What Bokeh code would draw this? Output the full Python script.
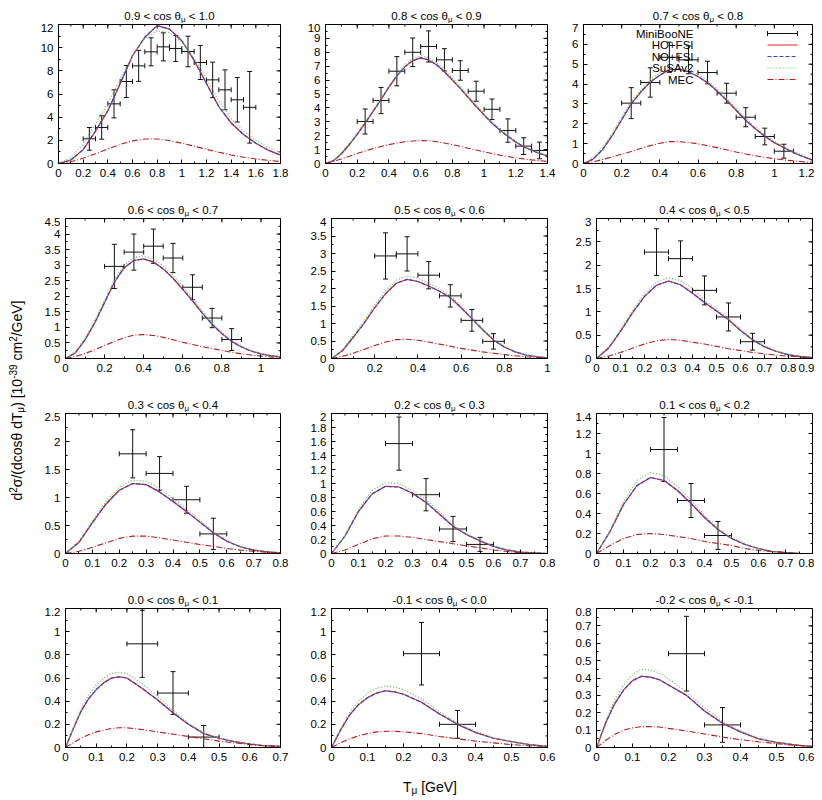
import math
import numpy as np
from bokeh.plotting import figure
from bokeh.models import (ColumnDataSource, FixedTicker, NumeralTickFormatter,
                          Label, Whisker, TeeHead, Range1d)
from bokeh.layouts import row, column
from bokeh.embed import file_html
from bokeh.resources import INLINE

# ------------------------------------------------------------------ data
cos_lo = ["0.9", "0.8", "0.7", "0.6", "0.5", "0.4", "0.3", "0.2", "0.1", "0.0", "-0.1", "-0.2"]
cos_hi = ["1.0", "0.9", "0.8", "0.7", "0.6", "0.5", "0.4", "0.3", "0.2", "0.1", "0.0", "-0.1"]

x_max = [1.8, 1.4, 1.2, 1.1, 1.0, 0.9, 0.8, 0.8, 0.8, 0.7, 0.6, 0.6]
x_step = [0.2, 0.2, 0.2, 0.2, 0.2, 0.1, 0.1, 0.1, 0.1, 0.1, 0.1, 0.1]
y_max = [12, 10, 7, 4.5, 4, 3, 2.5, 2, 1.4, 1.2, 1.2, 0.8]
y_step = [2, 1, 1, 0.5, 0.5, 0.5, 0.5, 0.2, 0.2, 0.2, 0.2, 0.1]

legend_names = ["MiniBooNE", "HO+FSI", "NO+FSI", "SuSAv2", "MEC"]
bin_half_width = 0.05

# T_mu grids on which the model curves were read (GeV)
t_1 = [0, 0.1, 0.2, 0.3, 0.4, 0.5, 0.6, 0.7, 0.8, 0.9, 1.0, 1.1, 1.2, 1.3, 1.4, 1.5, 1.6, 1.7, 1.8]
t_2 = [0, 0.05, 0.1, 0.15, 0.2, 0.25, 0.3, 0.35, 0.4, 0.45, 0.5, 0.55, 0.6, 0.65, 0.7, 0.75, 0.8,
       0.85, 0.9, 0.95, 1.0, 1.05, 1.1, 1.15, 1.2, 1.25, 1.3, 1.35, 1.4]
t_3 = [0, 0.05, 0.1, 0.15, 0.2, 0.25, 0.3, 0.35, 0.4, 0.45, 0.5, 0.55, 0.6, 0.65, 0.7, 0.75, 0.8,
       0.85, 0.9, 0.95, 1.0, 1.05, 1.1, 1.15, 1.2]
t_4 = [0, 0.05, 0.1, 0.15, 0.2, 0.25, 0.3, 0.35, 0.4, 0.45, 0.5, 0.55, 0.6, 0.65, 0.7, 0.75, 0.8,
       0.85, 0.9, 0.95, 1.0, 1.05, 1.1]
t_5 = [0, 0.05, 0.1, 0.15, 0.2, 0.25, 0.3, 0.35, 0.4, 0.45, 0.5, 0.55, 0.6, 0.65, 0.7, 0.75, 0.8,
       0.85, 0.9, 0.95, 1.0]
t_6 = [0, 0.05, 0.1, 0.15, 0.2, 0.25, 0.3, 0.35, 0.4, 0.45, 0.5, 0.55, 0.6, 0.65, 0.7, 0.75, 0.8,
       0.85, 0.9]
t_7 = [0, 0.05, 0.1, 0.15, 0.2, 0.25, 0.3, 0.35, 0.4, 0.45, 0.5, 0.55, 0.6, 0.65, 0.7, 0.75, 0.8]
t_8 = [0, 0.05, 0.1, 0.15, 0.2, 0.25, 0.3, 0.35, 0.4, 0.45, 0.5, 0.55, 0.6, 0.65, 0.7, 0.75, 0.8]
t_9 = [0, 0.05, 0.1, 0.15, 0.2, 0.25, 0.3, 0.35, 0.4, 0.45, 0.5, 0.55, 0.6, 0.65, 0.7, 0.75, 0.8]
t_10 = [0, 0.025, 0.05, 0.075, 0.1, 0.125, 0.15, 0.175, 0.2, 0.25, 0.3, 0.35, 0.4, 0.45, 0.5,
        0.55, 0.6, 0.65, 0.7]
t_11 = [0, 0.025, 0.05, 0.075, 0.1, 0.125, 0.15, 0.175, 0.2, 0.25, 0.3, 0.35, 0.4, 0.45, 0.5,
        0.55, 0.6]
t_12 = [0, 0.025, 0.05, 0.075, 0.1, 0.125, 0.15, 0.175, 0.2, 0.25, 0.3, 0.35, 0.4, 0.45, 0.5,
        0.55, 0.6]

# HO+FSI (NO+FSI coincides with it at reading precision)
ho_1 = [0, 0.3, 1.2, 2.8, 4.55, 6.9, 9.3, 10.9, 11.9, 11.6, 10.6, 8.9, 6.9, 4.9, 3.5, 2.5, 1.75, 1.15, 0.72]
ho_2 = [0, 0.2, 0.7, 1.35, 2.1, 2.9, 3.75, 4.6, 5.5, 6.3, 6.95, 7.4, 7.6, 7.45, 7.1, 6.6, 6.0, 5.4,
        4.75, 4.1, 3.5, 2.9, 2.4, 1.95, 1.55, 1.2, 0.95, 0.72, 0.55]
ho_3 = [0, 0.22, 0.7, 1.4, 2.2, 3.0, 3.6, 4.1, 4.45, 4.72, 4.75, 4.62, 4.38, 4.07, 3.65, 3.18, 2.68,
        2.18, 1.75, 1.37, 1.05, 0.8, 0.55, 0.35, 0.17]
ho_4 = [0, 0.18, 0.6, 1.15, 1.8, 2.45, 2.92, 3.15, 3.2, 3.1, 2.88, 2.58, 2.22, 1.85, 1.46, 1.1, 0.8,
        0.55, 0.37, 0.24, 0.15, 0.09, 0.05]
ho_5 = [0, 0.22, 0.6, 1.0, 1.45, 1.85, 2.15, 2.26, 2.2, 2.07, 1.92, 1.74, 1.45, 1.14, 0.82, 0.53,
        0.33, 0.19, 0.1, 0.05, 0.02]
ho_6 = [0, 0.22, 0.58, 0.98, 1.33, 1.57, 1.66, 1.58, 1.4, 1.2, 1.02, 0.83, 0.6, 0.4, 0.25, 0.15,
        0.08, 0.04, 0.02]
ho_7 = [0, 0.2, 0.55, 0.88, 1.13, 1.25, 1.23, 1.1, 0.93, 0.75, 0.56, 0.37, 0.22, 0.12, 0.06, 0.03, 0.01]
ho_8 = [0, 0.25, 0.6, 0.85, 0.96, 0.95, 0.86, 0.73, 0.56, 0.39, 0.27, 0.18, 0.1, 0.05, 0.02, 0.01, 0.0]
ho_9 = [0, 0.22, 0.49, 0.68, 0.76, 0.73, 0.63, 0.5, 0.36, 0.24, 0.15, 0.09, 0.05, 0.02, 0.01, 0.0, 0.0]
ho_10 = [0, 0.16, 0.31, 0.42, 0.5, 0.56, 0.6, 0.61, 0.6, 0.51, 0.41, 0.3, 0.2, 0.12, 0.08, 0.05,
         0.03, 0.015, 0.01]
ho_11 = [0, 0.15, 0.28, 0.37, 0.43, 0.47, 0.49, 0.48, 0.46, 0.39, 0.29, 0.2, 0.13, 0.08, 0.05,
         0.025, 0.01]
ho_12 = [0, 0.14, 0.25, 0.33, 0.385, 0.41, 0.405, 0.39, 0.36, 0.3, 0.21, 0.14, 0.09, 0.05, 0.03,
         0.015, 0.005]

# SuSAv2
susa_1 = [0, 0.5, 1.7, 3.4, 5.2, 7.3, 9.3, 10.8, 11.45, 11.3, 10.5, 9.1, 7.3, 5.4, 3.9, 2.8, 2.0, 1.4, 0.95]
susa_2 = [0, 0.25, 0.78, 1.45, 2.2, 3.0, 3.85, 4.7, 5.6, 6.4, 7.1, 7.55, 7.75, 7.62, 7.25, 6.75,
          6.15, 5.55, 4.9, 4.25, 3.6, 3.0, 2.5, 2.03, 1.62, 1.27, 1.0, 0.77, 0.6]
susa_3 = [0, 0.28, 0.8, 1.5, 2.35, 3.12, 3.72, 4.22, 4.58, 4.83, 4.87, 4.75, 4.5, 4.18, 3.76, 3.28,
          2.78, 2.27, 1.83, 1.44, 1.11, 0.85, 0.6, 0.4, 0.22]
susa_4 = [0, 0.22, 0.65, 1.22, 1.88, 2.53, 3.0, 3.24, 3.3, 3.2, 2.98, 2.68, 2.31, 1.93, 1.53, 1.16,
          0.85, 0.59, 0.4, 0.26, 0.16, 0.1, 0.06]
susa_5 = [0, 0.25, 0.65, 1.07, 1.53, 1.94, 2.24, 2.35, 2.29, 2.15, 1.99, 1.8, 1.5, 1.17, 0.85, 0.56,
          0.35, 0.2, 0.11, 0.06, 0.03]
susa_6 = [0, 0.25, 0.62, 1.03, 1.39, 1.64, 1.73, 1.67, 1.5, 1.25, 1.06, 0.86, 0.63, 0.42, 0.27, 0.16,
          0.09, 0.05, 0.02]
susa_7 = [0, 0.22, 0.58, 0.93, 1.19, 1.31, 1.29, 1.16, 0.98, 0.79, 0.59, 0.39, 0.24, 0.13, 0.07, 0.03, 0.02]
susa_8 = [0, 0.26, 0.63, 0.9, 1.01, 1.0, 0.9, 0.77, 0.59, 0.41, 0.28, 0.19, 0.11, 0.06, 0.02, 0.01, 0.0]
susa_9 = [0, 0.23, 0.52, 0.73, 0.81, 0.78, 0.67, 0.53, 0.38, 0.25, 0.16, 0.1, 0.05, 0.02, 0.01, 0.0, 0.0]
susa_10 = [0, 0.17, 0.33, 0.45, 0.54, 0.6, 0.64, 0.65, 0.64, 0.55, 0.44, 0.32, 0.21, 0.13, 0.08,
           0.05, 0.03, 0.015, 0.01]
susa_11 = [0, 0.16, 0.3, 0.4, 0.47, 0.51, 0.53, 0.52, 0.5, 0.42, 0.31, 0.21, 0.14, 0.085, 0.05,
           0.025, 0.01]
susa_12 = [0, 0.15, 0.27, 0.36, 0.42, 0.45, 0.445, 0.43, 0.395, 0.32, 0.23, 0.15, 0.095, 0.055,
           0.03, 0.015, 0.005]

# MEC
mec_1 = [0, 0.15, 0.45, 0.85, 1.25, 1.65, 1.95, 2.12, 2.12, 1.98, 1.75, 1.5, 1.22, 0.97, 0.74,
         0.54, 0.39, 0.27, 0.17]
mec_2 = [0, 0.15, 0.33, 0.52, 0.72, 0.9, 1.07, 1.22, 1.36, 1.47, 1.56, 1.62, 1.65, 1.63, 1.57, 1.47,
         1.36, 1.23, 1.1, 0.97, 0.84, 0.72, 0.6, 0.5, 0.41, 0.33, 0.26, 0.2, 0.15]
mec_3 = [0, 0.08, 0.2, 0.33, 0.47, 0.6, 0.76, 0.9, 1.02, 1.1, 1.1, 1.06, 0.99, 0.9, 0.8, 0.69, 0.58,
         0.48, 0.39, 0.31, 0.24, 0.18, 0.13, 0.09, 0.06]
mec_4 = [0, 0.06, 0.16, 0.28, 0.42, 0.55, 0.67, 0.75, 0.77, 0.74, 0.68, 0.6, 0.52, 0.45, 0.38, 0.32,
         0.26, 0.2, 0.15, 0.11, 0.08, 0.05, 0.03]
mec_5 = [0, 0.06, 0.15, 0.26, 0.37, 0.47, 0.54, 0.55, 0.52, 0.47, 0.41, 0.35, 0.29, 0.24, 0.19, 0.15,
         0.11, 0.08, 0.05, 0.03, 0.02]
mec_6 = [0, 0.05, 0.13, 0.22, 0.31, 0.38, 0.41, 0.39, 0.35, 0.31, 0.26, 0.21, 0.17, 0.13, 0.1, 0.07,
         0.05, 0.03, 0.02]
mec_7 = [0, 0.04, 0.11, 0.19, 0.27, 0.31, 0.31, 0.28, 0.24, 0.2, 0.16, 0.13, 0.09, 0.06, 0.04, 0.02, 0.01]
mec_8 = [0, 0.05, 0.13, 0.21, 0.25, 0.25, 0.23, 0.2, 0.17, 0.14, 0.11, 0.08, 0.05, 0.03, 0.01, 0.0, 0.0]
mec_9 = [0, 0.08, 0.15, 0.19, 0.2, 0.19, 0.17, 0.15, 0.12, 0.1, 0.08, 0.05, 0.03, 0.02, 0.01, 0.0, 0.0]
mec_10 = [0, 0.04, 0.08, 0.11, 0.135, 0.15, 0.165, 0.17, 0.17, 0.155, 0.135, 0.115, 0.095, 0.075,
          0.055, 0.04, 0.025, 0.015, 0.01]
mec_11 = [0, 0.04, 0.075, 0.1, 0.12, 0.135, 0.14, 0.14, 0.135, 0.12, 0.095, 0.075, 0.055, 0.04,
          0.025, 0.015, 0.01]
mec_12 = [0, 0.04, 0.075, 0.1, 0.113, 0.12, 0.12, 0.118, 0.11, 0.095, 0.078, 0.06, 0.045, 0.033,
          0.022, 0.013, 0.007]

# MiniBooNE data: bin centres, values, errors
mb_x_1 = [0.25, 0.35, 0.45, 0.55, 0.65, 0.75, 0.85, 0.95, 1.05, 1.15, 1.25, 1.35, 1.45, 1.55]
mb_y_1 = [2.13, 3.11, 5.15, 7.08, 8.43, 9.64, 10.07, 9.93, 9.67, 8.72, 7.22, 6.36, 5.5, 4.85]
mb_e_1 = [0.98, 1.01, 1.21, 1.38, 1.34, 1.21, 1.21, 1.12, 1.32, 1.47, 1.53, 1.72, 1.92, 3.09]
mb_x_2 = [0.25, 0.35, 0.45, 0.55, 0.65, 0.75, 0.85, 0.95, 1.05, 1.15, 1.25, 1.35]
mb_y_2 = [3.02, 4.53, 6.64, 8.0, 8.42, 7.46, 6.69, 5.2, 3.9, 2.37, 1.25, 0.94]
mb_e_2 = [0.9, 0.94, 1.05, 1.03, 1.12, 0.8, 0.7, 0.72, 0.74, 0.84, 0.6, 0.6]
mb_x_3 = [0.25, 0.35, 0.45, 0.55, 0.65, 0.75, 0.85, 0.95, 1.05]
mb_y_3 = [3.04, 4.08, 5.35, 5.22, 4.58, 3.54, 2.33, 1.36, 0.62]
mb_e_3 = [0.78, 0.74, 0.76, 0.7, 0.57, 0.5, 0.48, 0.42, 0.35]
mb_x_4 = [0.25, 0.35, 0.45, 0.55, 0.65, 0.75, 0.85]
mb_y_4 = [2.96, 3.42, 3.61, 3.23, 2.29, 1.3, 0.61]
mb_e_4 = [0.71, 0.58, 0.55, 0.47, 0.4, 0.31, 0.35]
mb_x_5 = [0.25, 0.35, 0.45, 0.55, 0.65, 0.75]
mb_y_5 = [2.93, 2.99, 2.38, 1.79, 1.09, 0.49]
mb_e_5 = [0.66, 0.49, 0.39, 0.32, 0.31, 0.22]
mb_x_6 = [0.25, 0.35, 0.45, 0.55, 0.65]
mb_y_6 = [2.28, 2.14, 1.46, 0.89, 0.36]
mb_e_6 = [0.5, 0.38, 0.31, 0.3, 0.18]
mb_x_7 = [0.25, 0.35, 0.45, 0.55]
mb_y_7 = [1.78, 1.43, 0.96, 0.35]
mb_e_7 = [0.43, 0.3, 0.24, 0.28]
mb_x_8 = [0.25, 0.35, 0.45, 0.55]
mb_y_8 = [1.57, 0.84, 0.35, 0.13]
mb_e_8 = [0.38, 0.23, 0.18, 0.1]
mb_x_9 = [0.25, 0.35, 0.45]
mb_y_9 = [1.04, 0.53, 0.18]
mb_e_9 = [0.32, 0.17, 0.14]
mb_x_10 = [0.25, 0.35, 0.45]
mb_y_10 = [0.895, 0.47, 0.09]
mb_e_10 = [0.29, 0.185, 0.1]
mb_x_11 = [0.25, 0.35]
mb_y_11 = [0.81, 0.2]
mb_e_11 = [0.27, 0.12]
mb_x_12 = [0.25, 0.35]
mb_y_12 = [0.54, 0.13]
mb_e_12 = [0.215, 0.1]

T = [t_1, t_2, t_3, t_4, t_5, t_6, t_7, t_8, t_9, t_10, t_11, t_12]
HO = [ho_1, ho_2, ho_3, ho_4, ho_5, ho_6, ho_7, ho_8, ho_9, ho_10, ho_11, ho_12]
NO = [list(h) for h in HO]
SUSA = [susa_1, susa_2, susa_3, susa_4, susa_5, susa_6, susa_7, susa_8, susa_9, susa_10, susa_11, susa_12]
MEC = [mec_1, mec_2, mec_3, mec_4, mec_5, mec_6, mec_7, mec_8, mec_9, mec_10, mec_11, mec_12]
MBX = [mb_x_1, mb_x_2, mb_x_3, mb_x_4, mb_x_5, mb_x_6, mb_x_7, mb_x_8, mb_x_9, mb_x_10, mb_x_11, mb_x_12]
MBY = [mb_y_1, mb_y_2, mb_y_3, mb_y_4, mb_y_5, mb_y_6, mb_y_7, mb_y_8, mb_y_9, mb_y_10, mb_y_11, mb_y_12]
MBE = [mb_e_1, mb_e_2, mb_e_3, mb_e_4, mb_e_5, mb_e_6, mb_e_7, mb_e_8, mb_e_9, mb_e_10, mb_e_11, mb_e_12]

# ------------------------------------------------------------------ style / layout
FONT = "Liberation Sans"
TICK_FS = "11.5px"
C_DATA = "#111111"
C_HO = "#e8232a"
C_NO = "#3246c8"
C_SUSA = "#5cc24f"
C_MEC = "#b01e1e"

LAB_W = 30
col_w = [261, 266, 257]
row_h = [180, 181, 181, 168]
strip_h = [23, 14, 14, 14]
xlab_h = 24
b_left = [[28, 34, 26], [35, 40, 39], [35, 40, 39], [35, 40, 39]]
b_right = [11, 10, 2]
b_top = 1
b_bot = [40, 40, 40, 28]
TOTAL_W = sum(col_w)
TOTAL_H = sum(row_h) + sum(strip_h) + xlab_h

ADV = {' ': 278, '(': 333, ')': 333, '+': 584, '-': 333, '.': 278, '/': 278, '<': 584,
       '[': 278, ']': 278, 'G': 778, 'T': 611, 'V': 667, 'c': 500, 'd': 556, 'e': 556,
       'm': 833, 'o': 556, 's': 500, 'θ': 556, 'σ': 600, 'μ': 576}


def adv(s, size):
    return sum(ADV.get(ch, 556) for ch in s) * size / 1000.0


def place_runs(p, x, y, runs, rotated=False):
    """Lay out text runs (text, font px, shift px) centred at (x, y), vertically centred."""
    total = sum(adv(t, s) for t, s, r in runs)
    pos = -total / 2.0
    for t, s, r in runs:
        lead = len(t) - len(t.lstrip(" "))
        txt = t.strip(" ")
        start = pos + adv(" " * lead, s)
        common = dict(text=txt, text_font=FONT, text_font_size=f"{s}px", text_color="black",
                      text_align="left", text_baseline="middle")
        if rotated:
            lab = Label(x=x, y=y, x_offset=-r, y_offset=start, angle=math.pi / 2, **common)
        else:
            lab = Label(x=x, y=y, x_offset=start, y_offset=r, **common)
        p.add_layout(lab)
        pos += adv(t, s)


def strip(width, height):
    s = figure(width=width, height=height, x_range=Range1d(0, width), y_range=Range1d(0, height),
               output_backend="svg", toolbar_location=None, x_axis_type=None, y_axis_type=None,
               min_border=0, min_border_left=0, min_border_right=0, min_border_top=0,
               min_border_bottom=0, title=None)
    s.outline_line_color = None
    s.xgrid.visible = False
    s.ygrid.visible = False
    s.border_fill_color = "white"
    s.background_fill_color = "white"
    return s


def style_axis(ax, ticker):
    ax.ticker = ticker
    ax.formatter = NumeralTickFormatter(format="0.[0]")
    ax.axis_line_color = "black"
    ax.major_tick_line_color = "black"
    ax.minor_tick_line_color = "black"
    ax.major_tick_in = 4
    ax.major_tick_out = 0
    ax.minor_tick_in = 2
    ax.minor_tick_out = 0
    ax.major_label_text_font = FONT
    ax.major_label_text_color = "black"
    ax.major_label_text_font_size = TICK_FS
    ax.major_label_standoff = 5


def frame_size(r, c):
    return col_w[c] - b_left[r][c] - b_right[c], row_h[r] - b_top - b_bot[r]


def make_panel(k, r, c):
    xm, ym = x_max[k], y_max[k]
    fw, fh = frame_size(r, c)
    p = figure(width=col_w[c], height=row_h[r], x_range=Range1d(0, xm), y_range=Range1d(0, ym),
               output_backend="svg", toolbar_location=None, title=None,
               min_border_left=b_left[r][c], min_border_right=b_right[c],
               min_border_top=b_top, min_border_bottom=b_bot[r])
    p.xgrid.visible = False
    p.ygrid.visible = False
    p.outline_line_color = "black"
    p.outline_line_width = 1
    p.background_fill_color = "white"
    p.border_fill_color = "white"

    xmaj = np.round(np.arange(0, xm + x_step[k] / 2, x_step[k]), 6)
    xmin_ = np.round(np.arange(0, xm + x_step[k] / 4, x_step[k] / 2), 6)
    ymaj = np.round(np.arange(0, ym + y_step[k] / 2, y_step[k]), 6)
    ymin_ = np.round(np.arange(0, ym + y_step[k] / 4, y_step[k] / 2), 6)
    style_axis(p.xaxis[0], FixedTicker(ticks=xmaj.tolist(), minor_ticks=xmin_.tolist()))
    style_axis(p.yaxis[0], FixedTicker(ticks=ymaj.tolist(), minor_ticks=ymin_.tolist()))

    # mirrored inward ticks on the top and right edges
    dy4, dy2 = 4 * ym / fh, 2 * ym / fh
    dx4, dx2 = 4 * xm / fw, 2 * xm / fw
    p.segment(x0=xmaj, y0=[ym] * len(xmaj), x1=xmaj, y1=[ym - dy4] * len(xmaj), line_color="black")
    p.segment(x0=xmin_, y0=[ym] * len(xmin_), x1=xmin_, y1=[ym - dy2] * len(xmin_), line_color="black")
    p.segment(x0=[xm] * len(ymaj), y0=ymaj, x1=[xm - dx4] * len(ymaj), y1=ymaj, line_color="black")
    p.segment(x0=[xm] * len(ymin_), y0=ymin_, x1=[xm - dx2] * len(ymin_), y1=ymin_, line_color="black")

    # model curves
    p.line(T[k], HO[k], line_color=C_HO, line_width=1.2)
    p.line(T[k], NO[k], line_color=C_NO, line_width=1.2, line_dash="4 2")
    p.line(T[k], SUSA[k], line_color=C_SUSA, line_width=1.2, line_dash="1 2")
    p.line(T[k], MEC[k], line_color=C_MEC, line_width=1.1, line_dash="6 2 1 2")

    # MiniBooNE data with x/y error bars
    xs = np.array(MBX[k], dtype=float)
    ys = np.array(MBY[k], dtype=float)
    es = np.array(MBE[k], dtype=float)
    src = ColumnDataSource(dict(x=xs, y=ys, ylo=ys - es, yhi=ys + es,
                                xlo=xs - bin_half_width, xhi=xs + bin_half_width))
    for dim, base, lo, hi in (("height", "x", "ylo", "yhi"), ("width", "y", "xlo", "xhi")):
        p.add_layout(Whisker(source=src, base=base, lower=lo, upper=hi, dimension=dim,
                             line_color=C_DATA, line_width=1,
                             upper_head=TeeHead(size=5, line_color=C_DATA, line_width=1),
                             lower_head=TeeHead(size=5, line_color=C_DATA, line_width=1)))
    return p


panels = []
k = 0
for r in range(4):
    figs = []
    for c in range(3):
        figs.append(make_panel(k, r, c))
        k += 1
    panels.append(figs)

# title strips above each row of panels
title_strips = []
k = 0
for r in range(4):
    s = strip(TOTAL_W, strip_h[r])
    for c in range(3):
        fw, fh = frame_size(r, c)
        cx = sum(col_w[:c]) + b_left[r][c] + fw / 2.0
        place_runs(s, cx, 8, [(f"{cos_lo[k]} < cos θ", 11.5, 0), ("μ", 8, -4),
                              (f" < {cos_hi[k]}", 11.5, 0)])
        k += 1
    title_strips.append(s)

# legend in the 0.7 < cos < 0.8 panel
pl = panels[0][2]
fw3, fh3 = frame_size(0, 2)
xm3, ym3 = x_max[2], y_max[2]
row_off = [9, 20.5, 32, 43.5, 55]
text_right_px = 110
sx0 = 184 / fw3 * xm3
sx1 = 214 / fw3 * xm3
styles = [dict(line_color=C_HO, line_width=1.2),
          dict(line_color=C_NO, line_width=1.2, line_dash="4 2"),
          dict(line_color=C_SUSA, line_width=1.2, line_dash="1 2"),
          dict(line_color=C_MEC, line_width=1.1, line_dash="6 2 1 2")]
for i, name in enumerate(legend_names):
    pl.add_layout(Label(x=0, y=ym3, x_offset=text_right_px, y_offset=-row_off[i], text=name,
                        text_font=FONT, text_font_size=TICK_FS, text_color="black",
                        text_align="right", text_baseline="middle"))
    yy = ym3 - row_off[i] / fh3 * ym3
    if i == 0:
        lsrc = ColumnDataSource(dict(y=[yy], lo=[sx0], hi=[sx1]))
        pl.add_layout(Whisker(source=lsrc, base="y", lower="lo", upper="hi", dimension="width",
                              line_color=C_DATA, line_width=1,
                              upper_head=TeeHead(size=5, line_color=C_DATA, line_width=1),
                              lower_head=TeeHead(size=5, line_color=C_DATA, line_width=1)))
    else:
        pl.line([sx0, sx1], [yy, yy], **styles[i - 1])

# x-axis title strip at the bottom
xs_strip = strip(TOTAL_W, xlab_h)
place_runs(xs_strip, 399.5, 13, [("T", 14, 0), ("μ", 10, -4), (" [GeV]", 14, 0)])

# y-axis title strip on the left
ys_strip = strip(LAB_W, TOTAL_H)
place_runs(ys_strip, 16, TOTAL_H - 400,
           [("d", 14, 0), ("2", 10, 4), ("σ/(dcosθ dT", 14, 0), ("μ", 10, -4), (") [10", 14, 0),
            ("-39", 10, 4), (" cm", 14, 0), ("2", 10, 4), ("/GeV]", 14, 0)],
           rotated=True)

items = []
for r in range(4):
    items.append(title_strips[r])
    items.append(row(*panels[r]))
items.append(xs_strip)
layout = row(ys_strip, column(*items))

with open("out.html", "w") as f:
    f.write(file_html(layout, INLINE, "MiniBooNE double differential cross section"))
